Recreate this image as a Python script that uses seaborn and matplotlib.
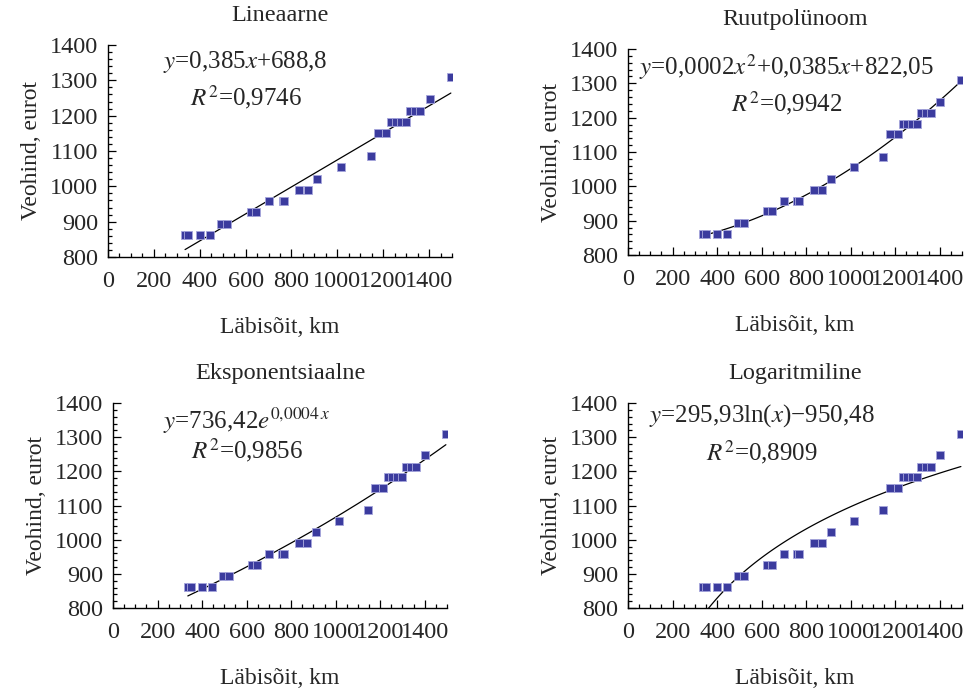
import numpy as np
import pandas as pd
import matplotlib
matplotlib.use("Agg")
import matplotlib.pyplot as plt
from matplotlib.ticker import MultipleLocator
import seaborn as sns

# andmed: läbisõit (km) ja veohind (eurot)
distance_km = [336, 350, 401, 445, 493, 521, 623, 645, 700, 761, 768, 834, 872, 912,
               1017, 1145, 1177, 1212, 1233, 1255, 1277, 1299, 1317, 1338, 1361, 1403, 1495]
price_eur = [862, 862, 862, 862, 893, 893, 927, 927, 958, 958, 958, 989, 989, 1021,
             1055, 1086, 1151, 1151, 1182, 1182, 1182, 1182, 1213, 1213, 1213, 1247, 1310]

titles = ['Lineaarne', 'Ruutpolünoom', 'Eksponentsiaalne', 'Logaritmiline']
equations = [r'$y$=0,385$x$+688,8',
             r'$y$=0,0002$x^2$+0,0385$x$+822,05',
             r'$y$=736,42$e^{0{,}0004\,x}$',
             r'$y$=295,93ln($x$)−950,48']
r2_labels = [r'$R^2$=0,9746', r'$R^2$=0,9942', r'$R^2$=0,9856', r'$R^2$=0,8909']

df = pd.DataFrame({'km': distance_km, 'hind': price_eur})

sns.set_style('ticks')
plt.rcParams['font.family'] = ['Liberation Serif', 'DejaVu Serif']
plt.rcParams['mathtext.fontset'] = 'stix'

fig, axes = plt.subplots(2, 2, figsize=(9.64, 6.93), dpi=100)
axes = axes.ravel()

# teljed käsitsi paika (pikslid -> murdosa)
W, H = 964, 693
boxes = [(108, 45, 452, 257), (628, 49, 962, 255), (113, 403, 447, 608), (628, 403, 962, 608)]
for ax, (l, t, r, b) in zip(axes, boxes):
    ax.set_position([l / W, (H - b) / H, (r - l) / W, (b - t) / H])

marker_kw = dict(marker='s', s=38, color='#3b3b9e', edgecolor='#a6a6dc', linewidth=0.6, zorder=3)
line_kw = dict(color='black', linewidth=0.9)

for i, ax in enumerate(axes):
    sns.scatterplot(data=df, x='km', y='hind', ax=ax, **marker_kw)

    if i == 0:
        sns.regplot(data=df, x='km', y='hind', ax=ax, scatter=False, ci=None, line_kws=line_kw)
    elif i == 1:
        sns.regplot(data=df, x='km', y='hind', ax=ax, scatter=False, ci=None, order=2, line_kws=line_kw)
    elif i == 2:
        b, a = np.polyfit(df['km'], np.log(df['hind']), 1)
        xs = np.linspace(df['km'].min(), df['km'].max(), 200)
        sns.lineplot(x=xs, y=np.exp(a) * np.exp(b * xs), ax=ax, **line_kw)
    else:
        sns.regplot(data=df, x='km', y='hind', ax=ax, scatter=False, ci=None, logx=True, line_kws=line_kw)

    ax.set_xlim(0, 1500)
    ax.set_ylim(800, 1400)
    ax.xaxis.set_major_locator(MultipleLocator(200))
    ax.xaxis.set_minor_locator(MultipleLocator(50))
    ax.yaxis.set_major_locator(MultipleLocator(100))
    ax.yaxis.set_minor_locator(MultipleLocator(20))
    ax.tick_params(which='both', direction='in', labelsize=17.5, width=0.9, color='black')
    ax.tick_params(which='major', length=5.5)
    ax.tick_params(axis='x', which='major', pad=10)
    ax.tick_params(axis='y', which='major', pad=7)
    ax.tick_params(which='minor', length=3)
    sns.despine(ax=ax)
    for sp in ['left', 'bottom']:
        ax.spines[sp].set_linewidth(1.0)
        ax.spines[sp].set_color('black')

    ax.set_title(titles[i], fontsize=17.5, pad=17)
    ax.set_xlabel('Läbisõit, km', fontsize=17, labelpad=18)
    ax.set_ylabel('Veohind, eurot', fontsize=17, labelpad=6)

eq_pos = [(0.40, 0.92, 0.755), (0.475, 0.91, 0.74), (0.40, 0.915, 0.77), (0.40, 0.94, 0.76)]
for ax, eq, r2, (x, y1, y2) in zip(axes, equations, r2_labels, eq_pos):
    ax.text(x, y1, eq, transform=ax.transAxes, ha='center', va='center', fontsize=18)
    ax.text(x, y2, r2, transform=ax.transAxes, ha='center', va='center', fontsize=18)

fig.savefig('out.png', dpi=100)
